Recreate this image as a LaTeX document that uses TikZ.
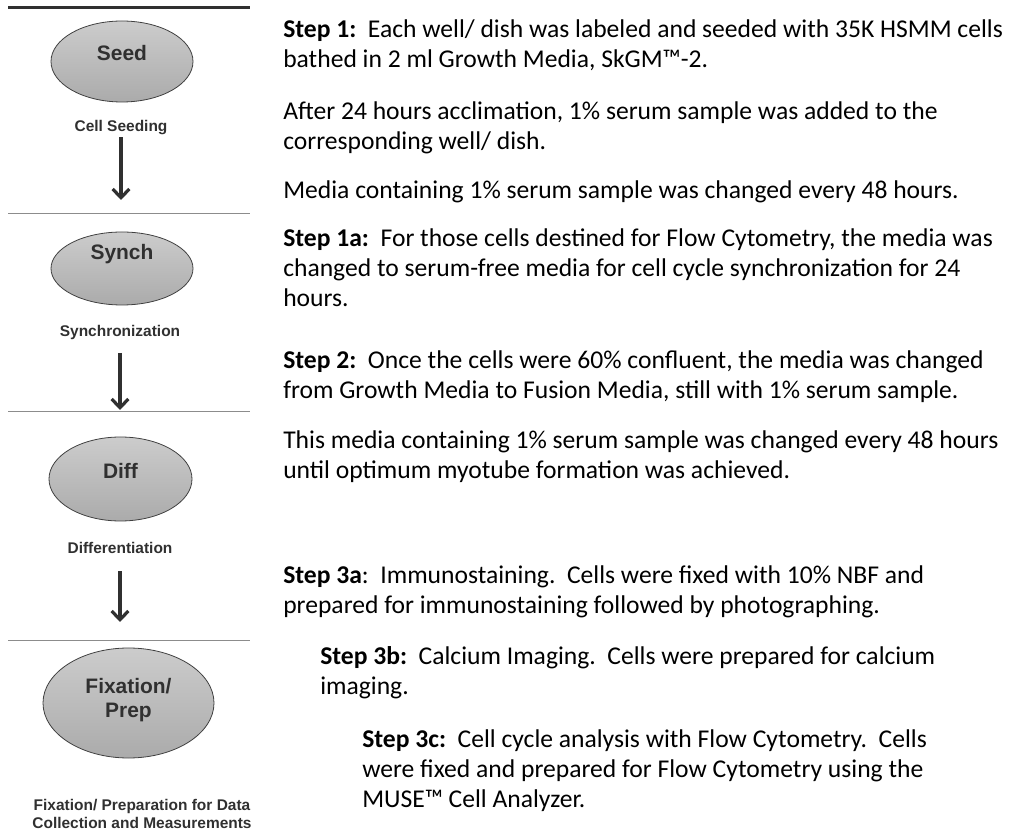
\documentclass[tikz,border=0pt]{standalone}
\usepackage{fontspec}
\setmainfont{Carlito}
\newfontfamily\arialfont{Liberation Sans}
\usepackage{xcolor}
\usetikzlibrary{shapes.geometric, arrows.meta, positioning}
\definecolor{rim}{HTML}{404040}
\definecolor{ink}{HTML}{303030}
\definecolor{rulegray}{HTML}{8C8C8C}
\tikzset{
  stage/.style={ellipse, draw=rim, line width=0.6pt, top color=gray!40, bottom color=gray!66, inner sep=0pt},
  stagetext/.style={font=\arialfont\bfseries\fontsize{15.7}{18.5}\selectfont, text=ink, align=center, inner sep=0pt, text depth=0pt},
  caption/.style={font=\arialfont\bfseries\fontsize{11.6}{13.5}\selectfont, text=ink, align=center, inner sep=4pt, text depth=0pt},
  flow/.style={-{Straight Barb[length=6.5pt, width=12.5pt]}, line width=2.4pt, draw=ink},
  sep/.style={draw=rulegray, line width=0.75pt},
  para/.style={font=\fontsize{19.2}{22.5}\selectfont, align=left, anchor=base west, inner sep=0pt},
}
\frenchspacing
\begin{document}
\begin{tikzpicture}[x=0.75pt, y=-0.75pt]
    \useasboundingbox (0,0) rectangle (1011,837);
    \draw[draw=ink, line width=2.25pt] (8,8) -- (250,8);
    \draw[sep] (8,214) -- (250,214);
    \draw[sep] (8,412) -- (250,412);
    \draw[sep] (8,641) -- (250,641);

    \node[stage, minimum width=106.5pt, minimum height=60.75pt] (seed) at (122,61.5) {};
    \node[stagetext] (seedtxt) at (122,53) {Seed};
    \node[caption] (seedcap) at (121,126) {Cell Seeding};
    \coordinate (seedend) at (121,200);
    \draw[flow] (seedcap.south) -- (seedend);

    \node[stage, minimum width=106.5pt, minimum height=54.75pt] (synch) at (122,268.5) {};
    \node[stagetext] (synchtxt) at (122,252) {Synch};
    \node[caption] (synchcap) at (120,331) {Synchronization};
    \coordinate (synchend) at (120,410);
    \draw[flow, shorten <=8pt] (synchcap.south) -- (synchend);

    \node[stage, minimum width=107.25pt, minimum height=63pt] (diff) at (120.5,479) {};
    \node[stagetext] (difftxt) at (120.5,471) {Diff};
    \node[caption] (diffcap) at (120,548) {Differentiation};
    \coordinate (diffend) at (120,622);
    \draw[flow, shorten <=9pt] (diffcap.south) -- (diffend);

    \node[stage, minimum width=128.25pt, minimum height=82.5pt] (fix) at (128.5,703) {};
    \node[stagetext, text depth=] (fixtxt) at (128.5,700) {Fixation/\\Prep};
    \node[caption, text depth=] (fixcap) at (142,814) {Fixation/ Preparation for Data\\Collection and Measurements};

    \node[para] (step1) at (283,68) {\textbf{Step 1:}\ \ Each well/ dish was labeled and seeded with 35K HSMM cells\\bathed in 2 ml Growth Media, SkGM™-2.};
    \node[para] (accl) at (283,150) {After 24 hours acclimation, 1\% serum sample was added to the\\corresponding well/ dish.};
    \node[para] (media) at (283,199) {Media containing 1\% serum sample was changed every 48 hours.};
    \node[para] (step1a) at (283,307) {\textbf{Step 1a:}\ \ For those cells destined for Flow Cytometry, the media was\\changed to serum-free media for cell cycle synchronization for 24\\hours.};
    \node[para] (step2) at (283,399) {\textbf{Step 2:}\ \ Once the cells were 60\% confluent, the media was changed\\from Growth Media to Fusion Media, still with 1\% serum sample.};
    \node[para] (fusion) at (283,479) {This media containing 1\% serum sample was changed every 48 hours\\until optimum myotube formation was achieved.};
    \node[para] (step3a) at (283,614) {\textbf{Step 3a}:\ \ Immunostaining.\ \ Cells were fixed with 10\% NBF and\\prepared for immunostaining followed by photographing.};
    \node[para] (step3b) at (320,695) {\textbf{Step 3b:}\ \ Calcium Imaging.\ \ Cells were prepared for calcium\\imaging.};
    \node[para] (step3c) at (362,807) {\textbf{Step 3c:}\ \ Cell cycle analysis with Flow Cytometry.\ \ Cells\\were fixed and prepared for Flow Cytometry using the\\MUSE™ Cell Analyzer.};
  \end{tikzpicture}
\end{document}
